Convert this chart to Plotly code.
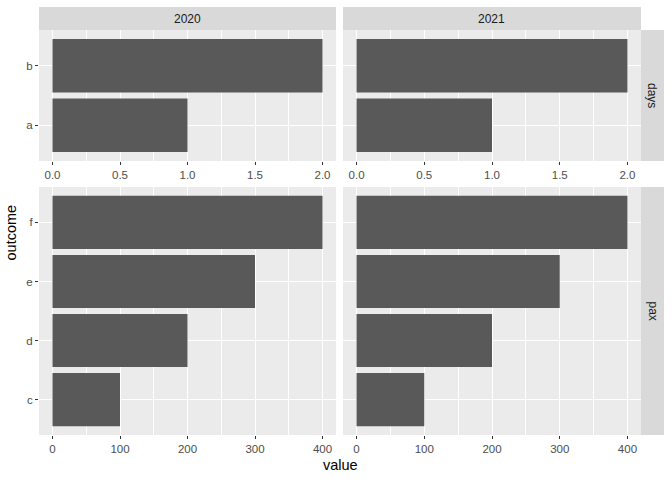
import plotly.graph_objects as go

# ---- data ----
years = ["2020", "2021"]
metrics = ["days", "pax"]
days_cats = ["a", "b"]
days_2020 = [1, 2]
days_2021 = [1, 2]
pax_cats = ["c", "d", "e", "f"]
pax_2020 = [100, 200, 300, 400]
pax_2021 = [100, 200, 300, 400]

W, H = 672, 480
BAR = "#595959"
PANEL = "#EBEBEB"
STRIP = "#D9D9D9"
TICKTXT = "#4D4D4D"
FONT = "Liberation Sans, Arial, sans-serif"

# panel pixel boxes
colx = [(39, 336), (343, 641)]
rowy = [(30, 161), (187, 435)]  # top, bottom (pixels from top)


def px_x(p):
    return p / W


def px_y(p):
    return 1 - p / H


fig = go.Figure()

panels = [
    (0, 0, days_cats, days_2020, [-0.1, 2.1], 0.5, 0.25, ".1f"),
    (0, 1, days_cats, days_2021, [-0.1, 2.1], 0.5, 0.25, ".1f"),
    (1, 0, pax_cats, pax_2020, [-20, 420], 100, 50, "d"),
    (1, 1, pax_cats, pax_2021, [-20, 420], 100, 50, "d"),
]

layout_axes = {}
for i, (r, c, cats, vals, xr, dt, mdt, fmt) in enumerate(panels):
    n = i + 1
    xa = "x" if n == 1 else f"x{n}"
    ya = "y" if n == 1 else f"y{n}"
    fig.add_trace(go.Bar(
        x=vals, y=cats, orientation="h",
        marker=dict(color=BAR, line=dict(width=0)),
        xaxis=xa, yaxis=ya, showlegend=False,
        hoverinfo="x+y",
    ))
    xkey = "xaxis" if n == 1 else f"xaxis{n}"
    ykey = "yaxis" if n == 1 else f"yaxis{n}"
    layout_axes[xkey] = dict(
        domain=[px_x(colx[c][0]), px_x(colx[c][1])],
        anchor=ya, range=xr, dtick=dt, tick0=0, tickformat=fmt,
        showgrid=True, gridcolor="white", gridwidth=1.1,
        minor=dict(dtick=mdt, tick0=0, showgrid=True, gridcolor="white", gridwidth=0.5),
        zeroline=False, showline=False,
        ticks="outside", ticklen=3, tickwidth=1, tickcolor="#333333",
        tickfont=dict(family=FONT, size=11.5, color=TICKTXT),
        fixedrange=True,
    )
    layout_axes[ykey] = dict(
        domain=[px_y(rowy[r][1]), px_y(rowy[r][0])],
        anchor=xa, type="category", categoryorder="array", categoryarray=cats,
        range=[-0.6, len(cats) - 0.4],
        showgrid=True, gridcolor="white", gridwidth=1.1,
        zeroline=False, showline=False,
        ticks="outside" if c == 0 else "", ticklen=3, tickwidth=1, tickcolor="#333333",
        showticklabels=(c == 0),
        tickfont=dict(family=FONT, size=11.5, color=TICKTXT),
        fixedrange=True,
    )

shapes = []
annotations = []
# top strips
for c, yr in enumerate(years):
    shapes.append(dict(type="rect", xref="paper", yref="paper",
                       x0=px_x(colx[c][0]), x1=px_x(colx[c][1]),
                       y0=px_y(30), y1=px_y(7),
                       fillcolor=STRIP, line=dict(width=0), layer="below"))
    annotations.append(dict(text=yr, xref="paper", yref="paper",
                            x=px_x((colx[c][0] + colx[c][1]) / 2), y=px_y(18.5),
                            showarrow=False, xanchor="center", yanchor="middle",
                            font=dict(family=FONT, size=12, color="#1A1A1A")))
# right strips
for r, m in enumerate(metrics):
    shapes.append(dict(type="rect", xref="paper", yref="paper",
                       x0=px_x(641), x1=px_x(664),
                       y0=px_y(rowy[r][1]), y1=px_y(rowy[r][0]),
                       fillcolor=STRIP, line=dict(width=0), layer="below"))
    annotations.append(dict(text=m, xref="paper", yref="paper",
                            x=px_x(652.5), y=px_y((rowy[r][0] + rowy[r][1]) / 2),
                            showarrow=False, xanchor="center", yanchor="middle",
                            textangle=90,
                            font=dict(family=FONT, size=12, color="#1A1A1A")))

# axis titles
annotations.append(dict(text="value", xref="paper", yref="paper",
                        x=px_x(340), y=px_y(465), showarrow=False,
                        xanchor="center", yanchor="middle",
                        font=dict(family=FONT, size=14.5, color="black")))
annotations.append(dict(text="outcome", xref="paper", yref="paper",
                        x=px_x(10), y=px_y(232.5), showarrow=False,
                        xanchor="center", yanchor="middle", textangle=-90,
                        font=dict(family=FONT, size=14.5, color="black")))

fig.update_layout(
    width=W, height=H,
    margin=dict(l=0, r=0, t=0, b=0),
    paper_bgcolor="white", plot_bgcolor=PANEL,
    bargap=0.1,
    shapes=shapes, annotations=annotations,
    font=dict(family=FONT),
    **layout_axes,
)

fig.write_html("out.html")
